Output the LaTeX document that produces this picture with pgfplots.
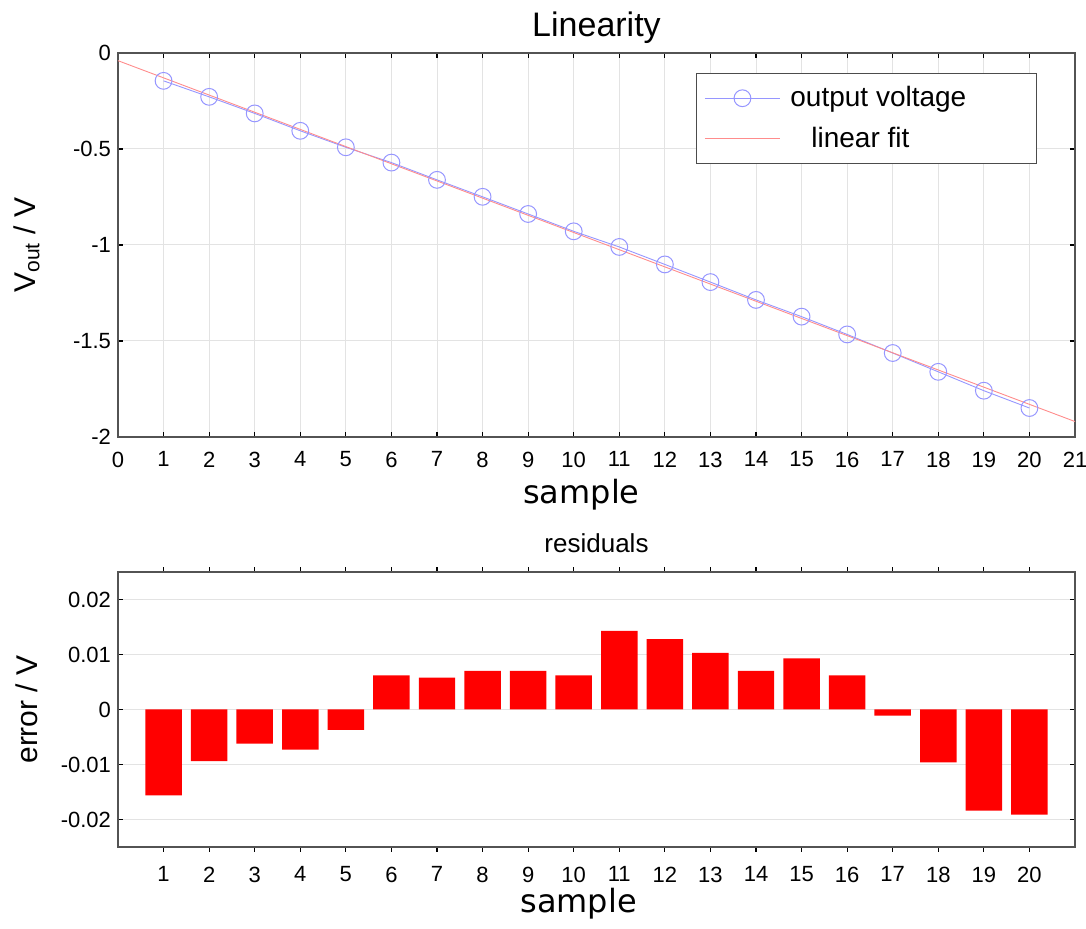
\documentclass[border=0pt]{standalone}
\usepackage{fontspec}
\setmainfont{Liberation Sans}
\newfontfamily\labelfont{DejaVu Sans}
\usepackage{pgfplots}
\pgfplotsset{compat=1.18}

\definecolor{datablue}{RGB}{150,150,255}
\definecolor{fitred}{RGB}{255,140,140}
\definecolor{barred}{RGB}{255,0,0}

\pgfplotsset{
  matlabaxis/.style={
    scale only axis,
    width=478.5pt,
    xmin=0, xmax=21,
    axis line style={gray!65!black, line width=0.8pt},
    tick style={black, line width=0.6pt},
    major tick length=2.5pt,
    grid style={gray!22, line width=0.5pt},
    /pgf/number format/assume math mode=true,
    tick label style={font=\fontsize{11}{13}\selectfont},
    xticklabel style={yshift=-3.8pt},
    scaled y ticks=false,
  },
}

\begin{document}
\begin{tikzpicture}
\useasboundingbox (-59pt,-246pt) rectangle (484pt,218.5pt);

% ---- output voltage and its linear fit ----
\begin{axis}[
  matlabaxis,
  at={(0pt,0pt)}, anchor=south west,
  height=192pt,
  ymin=-2, ymax=0,
  xtick={0,1,...,21},
  ytick={-2,-1.5,-1,-0.5,0},
  grid=major,
  title={Linearity},
  title style={at={(axis description cs:0.5,1.0417)}, anchor=base, yshift=-6pt,
               font=\fontsize{17}{20}\selectfont},
  xlabel={\labelfont sample},
  xlabel style={at={(axis description cs:0.4843,-0.1719)}, anchor=base,
                font=\fontsize{16}{19}\selectfont},
  ylabel={V\textsubscript{out} / V},
  ylabel style={at={(axis description cs:-0.0866,0.5)}, anchor=base,
                font=\fontsize{15}{18}\selectfont},
  legend image code/.code={
    \draw[mark repeat=2,mark phase=2,#1]
      plot coordinates {(2pt,0pt) (20.75pt,0pt) (39.5pt,0pt)};},
  legend style={at={(axis description cs:0.9603,0.9479)}, anchor=north east,
                draw=gray!60!black, line width=0.6pt, fill=white,
                font=\fontsize{14}{16}\selectfont,
                inner xsep=4pt, inner ysep=4.5pt, row sep=4.5pt},
  legend cell align=left,
]
\addplot[datablue, line width=0.45pt, mark=o, mark size=4.2pt,
         mark options={datablue, line width=0.5pt}]
  coordinates {
    (1,-0.1451) (2,-0.2284) (3,-0.3147) (4,-0.4053) (5,-0.4912)
    (6,-0.5708) (7,-0.6607) (8,-0.7490) (9,-0.8385) (10,-0.9288)
    (11,-1.0102) (12,-1.1012) (13,-1.1932) (14,-1.2860) (15,-1.3732)
    (16,-1.4658) (17,-1.5626) (18,-1.6606) (19,-1.7589) (20,-1.8491)
  };
\addlegendentry{\makebox[120pt][l]{\hspace{3pt}output voltage}}
\addplot[fitred, line width=0.45pt, no marks]
  coordinates {(0,-0.0400) (21,-1.9195)};
\addlegendentry{\makebox[120pt][l]{\hspace{13.5pt}linear fit}}
\end{axis}

% ---- residuals of the fit ----
\begin{axis}[
  matlabaxis,
  at={(0pt,-205pt)}, anchor=south west,
  height=137.5pt,
  ymin=-0.025, ymax=0.025,
  xtick={1,2,...,20},
  ytick={-0.02,-0.01,0,0.01,0.02},
  yticklabel style={/pgf/number format/fixed, /pgf/number format/precision=2},
  ymajorgrids,
  title={residuals},
  title style={at={(axis description cs:0.5,1.0691)}, anchor=base, yshift=-6pt,
               font=\fontsize{13}{15}\selectfont},
  xlabel={\labelfont sample},
  xlabel style={at={(axis description cs:0.4812,-0.2364)}, anchor=base,
                font=\fontsize{16}{19}\selectfont},
  ylabel={error / V},
  ylabel style={at={(axis description cs:-0.0836,0.5)}, anchor=base,
                font=\fontsize{15}{18}\selectfont},
  ybar, bar width=0.8,
]
\addplot[fill=barred, draw=none]
  coordinates {
    (1,-0.0156) (2,-0.0094) (3,-0.0062) (4,-0.0073) (5,-0.0037)
    (6,0.0062) (7,0.0058) (8,0.0070) (9,0.0070) (10,0.0062)
    (11,0.0143) (12,0.0128) (13,0.0103) (14,0.0070) (15,0.0093)
    (16,0.0062) (17,-0.0011) (18,-0.0096) (19,-0.0184) (20,-0.0191)
  };
\end{axis}
\end{tikzpicture}
\end{document}
